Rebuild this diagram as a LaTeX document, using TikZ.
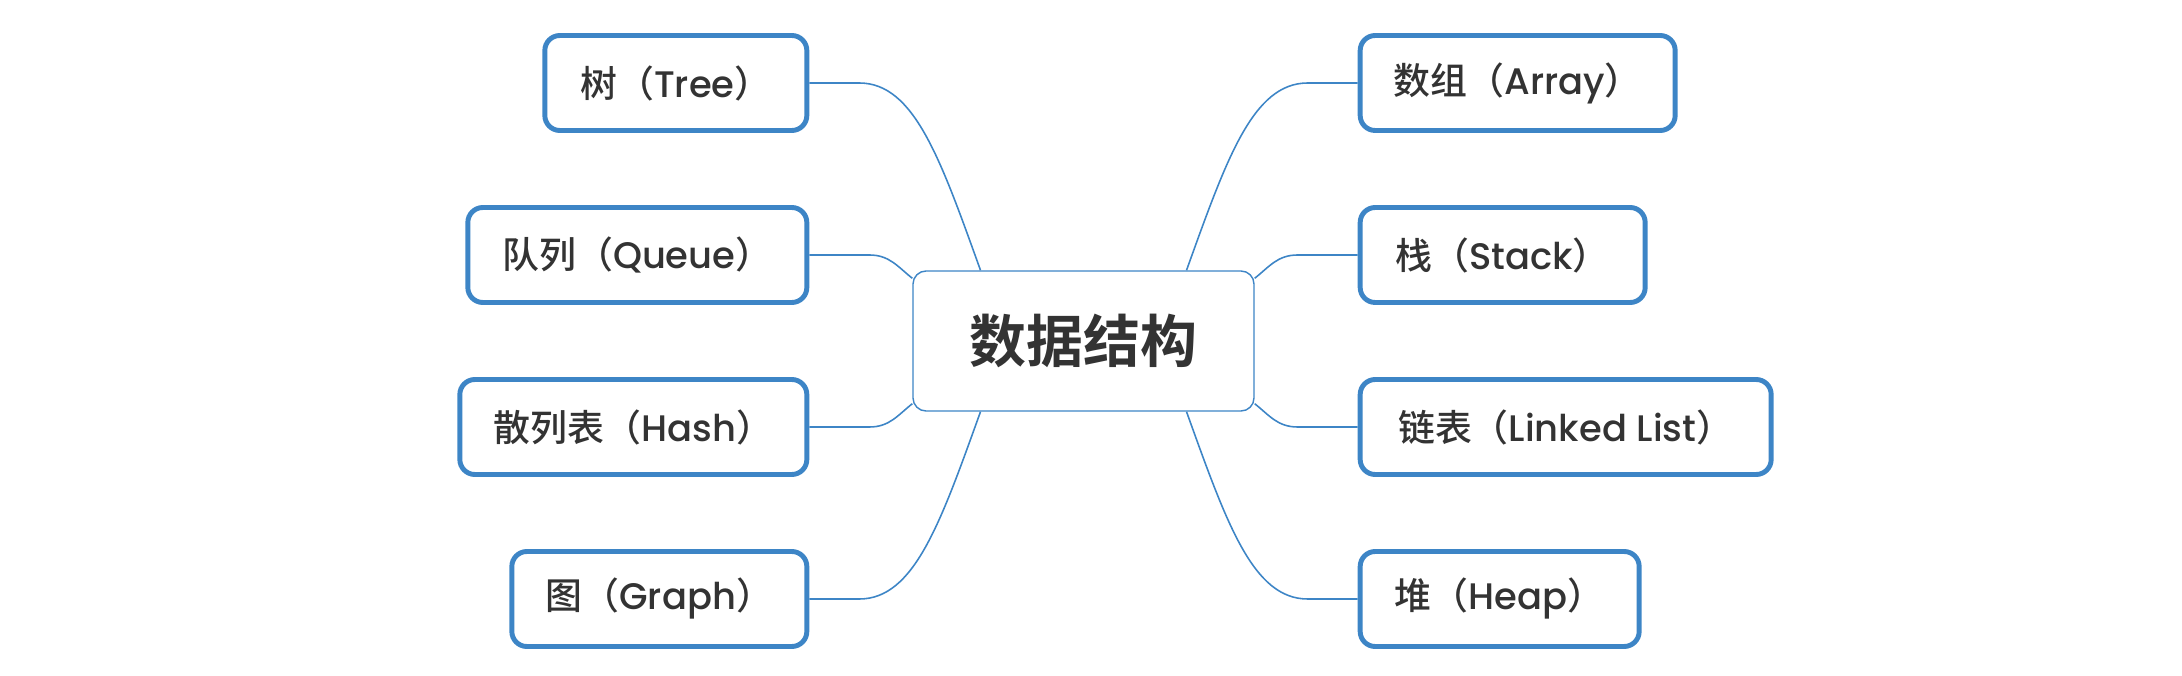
\documentclass[tikz,border=0pt]{standalone}
\usepackage{fontspec}
\setmainfont{Poppins Medium}
\newfontfamily\cjk{Noto Sans CJK SC Medium}
\newfontfamily\cjkbold{Noto Sans CJK SC Bold}
\usetikzlibrary{positioning, calc}
\definecolor{mapblue}{RGB}{61,133,198}
\definecolor{maptext}{RGB}{51,51,51}

\begin{document}
\begin{tikzpicture}[
        node distance=1.03cm,
        root/.style={
            rectangle,
            rounded corners=0.13cm,
            draw=mapblue,
            line width=0.4pt,
            fill=white,
            minimum width=3.41cm,
            minimum height=1.40cm,
            text=maptext,
            font=\cjkbold\fontsize{16.2}{20}\selectfont
        },
        leaf/.style={
            rectangle,
            rounded corners=0.15cm,
            draw=mapblue,
            line width=1.4pt,
            fill=white,
            minimum height=0.95cm,
            align=center,
            text=maptext,
            font=\fontsize{10.5}{13}\selectfont
        },
        link/.style={
            draw=mapblue,
            line width=0.45pt
        }
    ]
    \useasboundingbox (0,0) rectangle (21.82,-6.76);
    \node[root] (root) at (10.835,-3.41) {数据结构};

    \node[leaf, minimum width=2.62cm, left=of root, yshift=2.58cm] (tree) {{\cjk 树（}Tree{\cjk ）}};
    \node[leaf, minimum width=3.39cm, left=of root, yshift=0.86cm] (queue) {{\cjk 队列（}Queue{\cjk ）}};
    \node[leaf, minimum width=3.47cm, left=of root, yshift=-0.86cm] (hash) {{\cjk 散列表（}Hash{\cjk ）}};
    \node[leaf, minimum width=2.95cm, left=of root, yshift=-2.58cm] (graph) {{\cjk 图（}Graph{\cjk ）}};

    \node[leaf, minimum width=3.15cm, right=of root, yshift=2.58cm] (array) {{\cjk 数组（}Array{\cjk ）}};
    \node[leaf, minimum width=2.85cm, right=of root, yshift=0.86cm] (stack) {{\cjk 栈（}Stack{\cjk ）}};
    \node[leaf, minimum width=4.11cm, right=of root, yshift=-0.86cm] (linked) {{\cjk 链表（}Linked List{\cjk ）}};
    \node[leaf, minimum width=2.79cm, right=of root, yshift=-2.58cm] (heap) {{\cjk 堆（}Heap{\cjk ）}};

    \coordinate (root-nl) at ($(root.north)+(-1.03,0)$);
    \coordinate (root-nr) at ($(root.north)+(1.03,0)$);
    \coordinate (root-sl) at ($(root.south)+(-1.03,0)$);
    \coordinate (root-sr) at ($(root.south)+(1.03,0)$);
    \coordinate (root-wn) at ($(root.north west)+(0,-0.08)$);
    \coordinate (root-ws) at ($(root.south west)+(0,0.08)$);
    \coordinate (root-en) at ($(root.north east)+(0,-0.08)$);
    \coordinate (root-es) at ($(root.south east)+(0,0.08)$);

    \draw[link] (tree.east) -- ++(0.5,0) .. controls +(0.55,0) and +(-0.4,1.11) .. (root-nl);
    \draw[link] (queue.east) -- ++(0.6,0) .. controls +(0.2,0) and +(-0.15,0.12) .. (root-wn);
    \draw[link] (hash.east) -- ++(0.6,0) .. controls +(0.2,0) and +(-0.15,-0.12) .. (root-ws);
    \draw[link] (graph.east) -- ++(0.5,0) .. controls +(0.55,0) and +(-0.4,-1.11) .. (root-sl);

    \draw[link] (array.west) -- ++(-0.5,0) .. controls +(-0.55,0) and +(0.4,1.11) .. (root-nr);
    \draw[link] (stack.west) -- ++(-0.6,0) .. controls +(-0.2,0) and +(0.15,0.12) .. (root-en);
    \draw[link] (linked.west) -- ++(-0.6,0) .. controls +(-0.2,0) and +(0.15,-0.12) .. (root-es);
    \draw[link] (heap.west) -- ++(-0.5,0) .. controls +(-0.55,0) and +(0.4,-1.11) .. (root-sr);
\end{tikzpicture}
\end{document}
